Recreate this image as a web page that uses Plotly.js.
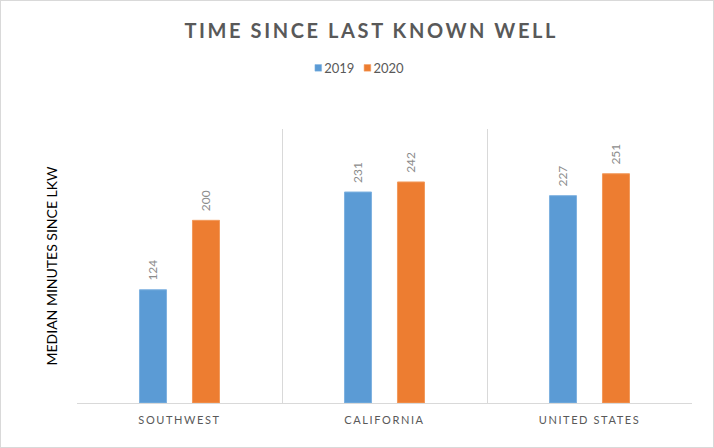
<!DOCTYPE html>
<html>
<head>
<meta charset="utf-8">
<script src="https://cdn.plot.ly/plotly-3.0.1.min.js"></script>
<style>
html, body { margin: 0; padding: 0; background: #fff; }
#chart { width: 712px; height: 446px; border: 1px solid #D9D9D9; }
.gtitle { letter-spacing: 2.6px; }
.xtick text { letter-spacing: 1.6px; }
</style>
</head>
<body>
<div id="chart"></div>
<script>
const categories = ["SOUTHWEST", "CALIFORNIA", "UNITED STATES"];
const values2019 = [124, 231, 227];
const values2020 = [200, 242, 251];
const seriesNames = ["2019", "2020"];

const FONT = "Lato, 'Open Sans', sans-serif";
const pad = "\u00A0\u00A0";

const common = {
  type: "bar",
  textposition: "outside",
  textangle: -90,
  cliponaxis: false,
  textfont: { family: FONT, size: 12, color: "#8C8C8C" },
  hoverinfo: "skip"
};

const data = [
  Object.assign({}, common, {
    name: seriesNames[0], x: categories, y: values2019,
    text: values2019.map(v => pad + v),
    marker: { color: "#5B9BD5", line: { color: "#7FB2E0", width: 1 } }
  }),
  Object.assign({}, common, {
    name: seriesNames[1], x: categories, y: values2020,
    text: values2020.map(v => pad + v),
    marker: { color: "#ED7D31", line: { color: "#F29A5C", width: 1 } }
  })
];

const layout = {
  width: 712, height: 446,
  margin: { l: 76, r: 21, t: 128, b: 44 },
  paper_bgcolor: "#fff", plot_bgcolor: "#fff",
  title: {
    text: "<b>TIME SINCE LAST KNOWN WELL</b>",
    font: { family: FONT, size: 20, color: "#595959" },
    x: 0.52, xanchor: "center", y: 0.933, yanchor: "middle"
  },
  showlegend: true,
  legend: {
    orientation: "h", x: 0.505, xanchor: "center", y: 1.223, yanchor: "middle",
    font: { family: FONT, size: 13, color: "#595959" },
    itemwidth: 30, traceorder: "normal"
  },
  barmode: "group",
  bargap: 0.483,
  bargroupgap: 0.49,
  xaxis: {
    type: "category",
    range: [-0.5, 2.5],
    tickson: "boundaries",
    ticks: "",
    ticklabelstandoff: 7,
    showgrid: true, gridcolor: "#D9D9D9", gridwidth: 1,
    showline: true, linecolor: "#D9D9D9", linewidth: 1,
    tickfont: { family: FONT, size: 11, color: "#595959" },
    fixedrange: true
  },
  yaxis: {
    range: [0, 300],
    showgrid: false, zeroline: false, showline: false,
    showticklabels: false, ticks: "",
    title: {
      text: "MEDIAN MINUTES SINCE LKW",
      font: { family: FONT, size: 14, color: "#000" },
      standoff: 15
    },
    fixedrange: true
  }
};

function parseTranslate(el) {
  const t = el.getAttribute("transform") || "";
  const m = t.match(/translate\(\s*([-\d.]+)[ ,]+([-\d.]+)\s*\)/);
  return m ? [parseFloat(m[1]), parseFloat(m[2])] : [0, 0];
}

Plotly.newPlot("chart", data, layout, { displayModeBar: false, staticPlot: true }).then(function (gd) {
  // compact legend: small square swatches set close to their labels, like the original
  const items = Array.from(gd.querySelectorAll(".legend .traces"));
  if (!items.length) return;
  let x = parseTranslate(items[0])[0];
  items.forEach(function (g) {
    const pos = parseTranslate(g);
    g.querySelectorAll(".legendpoints path").forEach(function (p) {
      const orig = p.getAttribute("transform") || "";
      p.setAttribute("transform", orig + " scale(0.55)");
    });
    const txt = g.querySelector(".legendtext");
    let tw = 26;
    if (txt) {
      txt.setAttribute("x", 26);
      tw = txt.getComputedTextLength();
    }
    g.setAttribute("transform", "translate(" + x + "," + pos[1] + ")");
    x += tw + 19;
  });
  // re-center the compact legend on the original legend centre
  const first = items[0].querySelector(".legendpoints path");
  const lastTxt = items[items.length - 1].querySelector(".legendtext");
  if (first && lastTxt) {
    const a = first.getBoundingClientRect();
    const b = lastTxt.getBoundingClientRect();
    const dx = 359.5 - (a.left + b.right) / 2;
    items.forEach(function (g) {
      const pos = parseTranslate(g);
      g.setAttribute("transform", "translate(" + (pos[0] + dx) + "," + pos[1] + ")");
    });
  }
});
</script>
</body>
</html>
